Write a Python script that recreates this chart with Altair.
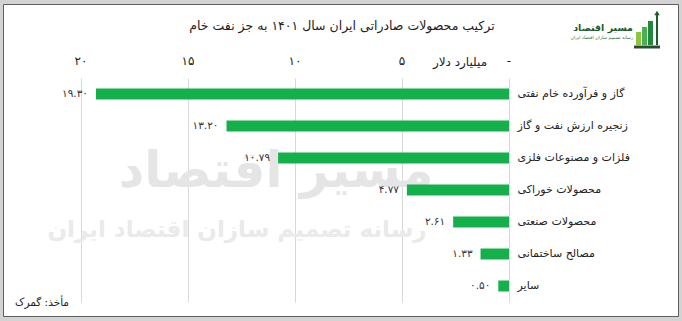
import altair as alt
import pandas as pd

# ---- data ----
categories = [
    "گاز و فرآورده خام نفتی",
    "زنجیره ارزش نفت و گاز",
    "فلزات و مصنوعات فلزی",
    "محصولات خوراکی",
    "محصولات صنعتی",
    "مصالح ساختمانی",
    "سایر",
]
values = [19.30, 13.20, 10.79, 4.77, 2.61, 1.33, 0.50]
x_ticks = [0, 5, 10, 15, 20]

title_text = "ترکیب محصولات صادراتی ایران سال ۱۴۰۱ به جز نفت خام"
unit_text = "میلیارد دلار"
source_text = "مأخذ: گمرک"
logo_text = "مسیر اقتصاد"
logo_sub = "رسانه تصمیم سازان اقتصاد ایران"

FA = str.maketrans("0123456789", "۰۱۲۳۴۵۶۷۸۹")


def fa(s):
    return s.translate(FA)


df = pd.DataFrame({
    "cat": categories,
    "val": values,
    "lab": [fa(f"{v:.2f}") for v in values],
})
ticks_df = pd.DataFrame({
    "val": x_ticks,
    "tl": ["-" if t == 0 else fa(str(t)) for t in x_ticks],
})

FONT = "DejaVu Sans"
GREEN = "#13b04c"

W, H = 428, 224
PL, PT = 81, 78
XSCALE = alt.Scale(domain=[0, 20], reverse=True, nice=False)

one = pd.DataFrame({"k": [0]})

wm1 = alt.Chart(pd.DataFrame({"t": [logo_text]})).mark_text(
    font=FONT, fontSize=50, fontWeight="bold", color="#e5e5e5",
    align="center", baseline="middle"
).encode(text="t:N", x=alt.value(276 - PL), y=alt.value(172 - PT))

wm2 = alt.Chart(pd.DataFrame({"t": [logo_sub]})).mark_text(
    font=FONT, fontSize=23, fontWeight="bold", color="#eaeaea",
    align="center", baseline="middle"
).encode(text="t:N", x=alt.value(237 - PL), y=alt.value(230 - PT))

bars = alt.Chart(df).mark_bar(color=GREEN, size=11).encode(
    x=alt.X(
        "val:Q",
        scale=XSCALE,
        axis=alt.Axis(
            orient="top", values=x_ticks, labels=False,
            grid=True, gridColor="#d9d9d9", gridWidth=1,
            ticks=False, domain=False, title=None,
        ),
    ),
    y=alt.Y(
        "cat:N", sort=categories,
        axis=alt.Axis(
            orient="right", ticks=False, domain=False, title=None,
            labelAlign="left", labelPadding=8, labelFont=FONT,
            labelFontSize=11, labelColor="#222222", labelLimit=300,
        ),
    ),
)

tick_labels = alt.Chart(ticks_df).mark_text(
    font=FONT, fontSize=12, color="#222222", align="center", baseline="middle"
).encode(
    x=alt.X("val:Q", scale=XSCALE),
    y=alt.value(61 - PT),
    text="tl:N",
)

labels = alt.Chart(df).mark_text(
    font=FONT, fontSize=10.5, color="#333333", align="right",
    baseline="middle", dx=-8
).encode(
    x=alt.X("val:Q", scale=XSCALE),
    y=alt.Y("cat:N", sort=categories),
    text="lab:N",
)

title = alt.Chart(pd.DataFrame({"t": [title_text]})).mark_text(
    font=FONT, fontSize=12.5, color="#222222", align="center", baseline="middle"
).encode(text="t:N", x=alt.value(342 - PL), y=alt.value(26 - PT))

unit = alt.Chart(pd.DataFrame({"t": [unit_text]})).mark_text(
    font=FONT, fontSize=12, color="#222222", align="center", baseline="middle"
).encode(text="t:N", x=alt.value(460 - PL), y=alt.value(62 - PT))

source = alt.Chart(pd.DataFrame({"t": [source_text]})).mark_text(
    font=FONT, fontSize=10.5, color="#222222", align="left", baseline="middle"
).encode(text="t:N", x=alt.value(15 - PL), y=alt.value(303 - PT))

logo1 = alt.Chart(pd.DataFrame({"t": [logo_text]})).mark_text(
    font=FONT, fontSize=9.5, fontWeight="bold", color="#1d5a2c",
    align="right", baseline="middle"
).encode(text="t:N", x=alt.value(633 - PL), y=alt.value(28 - PT))

logo2 = alt.Chart(pd.DataFrame({"t": [logo_sub]})).mark_text(
    font=FONT, fontSize=4.5, color="#2a6a3a", align="right", baseline="middle"
).encode(text="t:N", x=alt.value(633 - PL), y=alt.value(38 - PT))

# small logo icon (decoration)
icon_bars = [
    (636, 641, 32, "#8cc63f"),
    (642, 647, 27, "#4caf50"),
    (648, 653, 21, "#1f8a3a"),
]
icon = alt.layer(*[
    alt.Chart(one).mark_rect(color=c).encode(
        x=alt.value(x0 - PL), x2=alt.value(x1 - PL),
        y=alt.value(y0 - PT), y2=alt.value(45 - PT),
    )
    for x0, x1, y0, c in icon_bars
])
icon_arrow = alt.Chart(one).mark_rule(color="#1d5a2c", strokeWidth=2).encode(
    x=alt.value(657 - PL), y=alt.value(14 - PT), y2=alt.value(45 - PT)
)
icon_head = alt.Chart(one).mark_point(
    shape="triangle-up", filled=True, color="#1d5a2c", size=30, opacity=1
).encode(x=alt.value(657 - PL), y=alt.value(13 - PT))
icon_base = alt.Chart(one).mark_rule(color="#2e4a35", strokeWidth=3).encode(
    x=alt.value(634 - PL), x2=alt.value(660 - PL), y=alt.value(47 - PT)
)

frame_outer = alt.Chart(one).mark_rect(
    fillOpacity=0, stroke="#d3d3d3", strokeWidth=8
).encode(
    x=alt.value(0 - PL), x2=alt.value(682 - PL),
    y=alt.value(0 - PT), y2=alt.value(321 - PT),
)
frame_inner = alt.Chart(one).mark_rect(
    fillOpacity=0, stroke="#5f5f5f", strokeWidth=1
).encode(
    x=alt.value(3.5 - PL), x2=alt.value(678.5 - PL),
    y=alt.value(4.5 - PT), y2=alt.value(316.5 - PT),
)

chart = alt.layer(
    wm1, wm2, bars, tick_labels, labels, title, unit, source, logo1, logo2,
    icon, icon_arrow, icon_head, icon_base, frame_outer, frame_inner
).properties(
    width=W, height=H,
    autosize=alt.AutoSizeParams(type="none"),
    padding={"left": PL, "top": PT, "right": 682 - PL - W, "bottom": 321 - PT - H},
    background="white",
).configure_view(stroke=None)

chart.save("out.html", embed_options={"renderer": "svg", "actions": False})
